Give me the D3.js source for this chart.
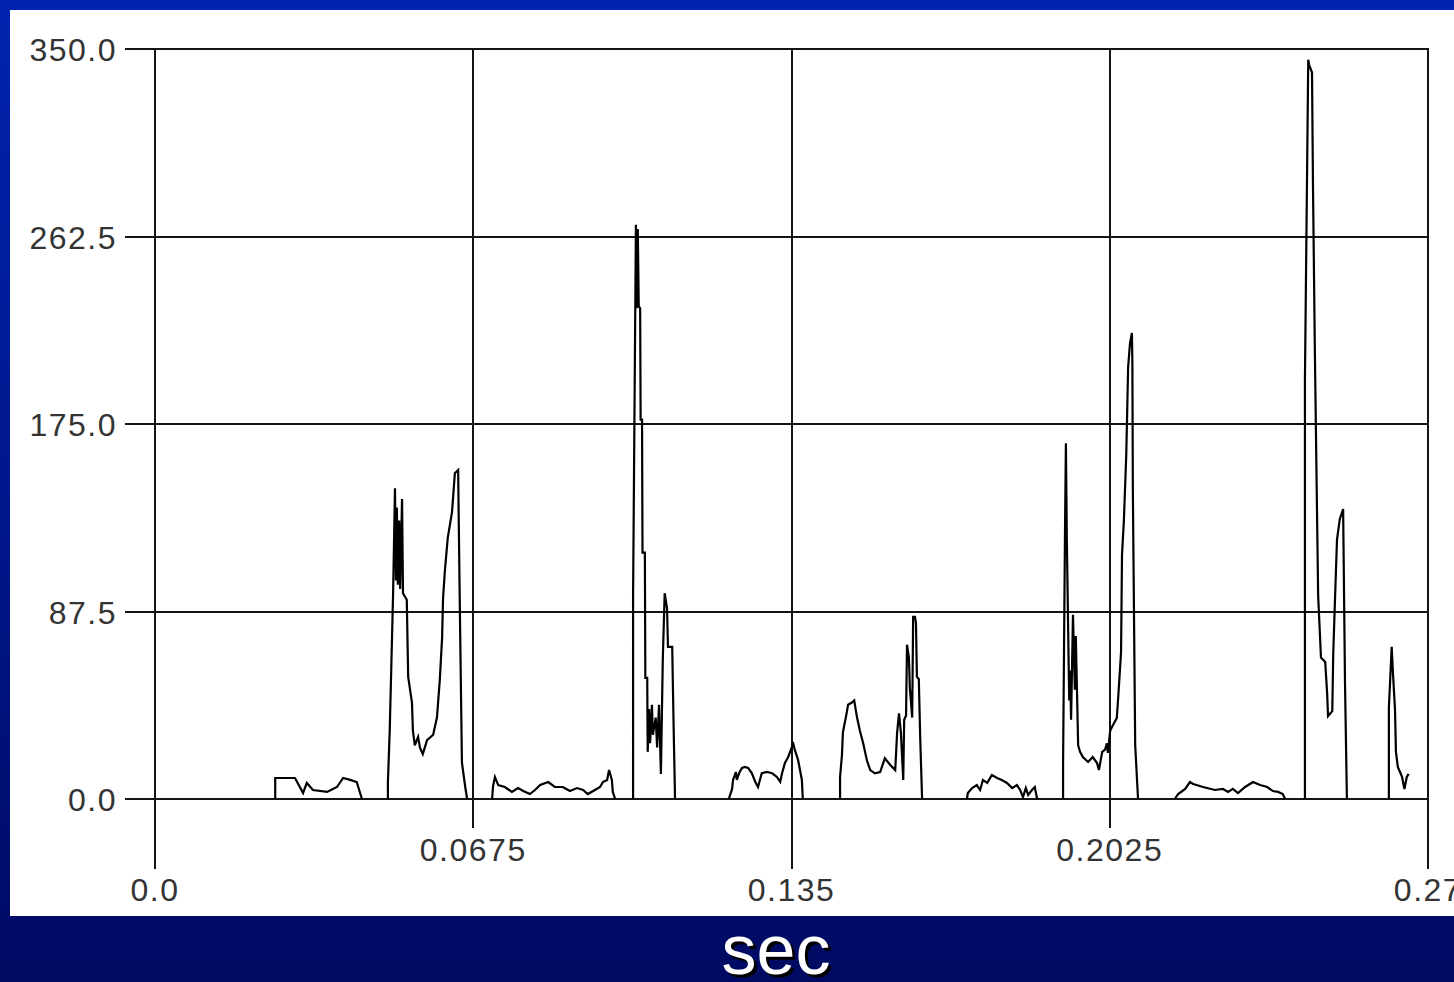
<!DOCTYPE html>
<html>
<head>
<meta charset="utf-8">
<script src="https://cdn.jsdelivr.net/npm/d3@7"></script>
<style>
  html, body { margin: 0; padding: 0; overflow: hidden; }
  svg { display: block; }
</style>
</head>
<body>
<svg id="chart" width="1454" height="982"></svg>
<script>
// ticks on both axes
const yTicks = [0, 87.5, 175, 262.5, 350];
const xTicks = [0, 0.0675, 0.135, 0.2025, 0.27];
const xTickLabels = ["0.0", "0.0675", "0.135", "0.2025", "0.27"];
const xLabel = "sec";

// bursts of the trace, [time (s), value]
const burst1 = [[0.0255,0],[0.0255,9.8],[0.0297,9.8],[0.0314,2.8],[0.0322,7.5],[0.0335,4.2],[0.0365,3.3],
  [0.0386,5.6],[0.0399,9.8],[0.0414,8.9],[0.0428,7.9],[0.0435,2.8],[0.0439,0]];
const burst2 = [[0.0494,0],[0.0494,7.9],[0.0498,33],[0.0505,96],[0.0509,145],[0.0511,102],[0.0513,136],
  [0.0515,100],[0.0518,130],[0.0520,98],[0.0524,140],[0.0526,96],[0.0534,93],[0.0537,57],[0.0545,45],
  [0.0547,32],[0.0551,25],[0.0558,29],[0.0562,24],[0.0568,21],[0.0577,27.5],[0.0590,30],[0.0598,38],
  [0.0604,55.5],[0.0609,75.6],[0.0611,94],[0.0615,107],[0.0621,122],[0.0630,134],[0.0636,152],
  [0.0643,153.5],[0.0644,134],[0.0647,82],[0.0651,17],[0.0658,5.6],[0.0662,0]];
const burst3 = [[0.0715,0],[0.0717,6],[0.0721,10.3],[0.0728,6.5],[0.0742,5.6],[0.0757,3.3],[0.0770,5.1],
  [0.0781,3.7],[0.0795,2.3],[0.0806,4.2],[0.0817,6.5],[0.0834,7.9],[0.0848,5.6],[0.0865,5.6],[0.0880,3.7],
  [0.0895,5.1],[0.0908,4.2],[0.0918,2.3],[0.0933,4.2],[0.0944,5.6],[0.0950,7.9],[0.0959,8.9],[0.0963,13.5],
  [0.0969,8.9],[0.0971,3.3],[0.0976,0]];
const burst4 = [[0.1014,0],[0.1014,95],[0.1020,268],[0.1022,229],[0.1024,266],[0.1026,230],[0.1029,229],
  [0.1030,177],[0.1033,177],[0.1034,115],[0.1039,115],[0.1040,56.5],[0.1044,56.5],[0.1045,22],[0.1048,42],
  [0.1050,26],[0.1054,44],[0.1056,30],[0.1062,38],[0.1065,24],[0.1069,44],[0.1073,11.7],[0.1077,65],
  [0.1081,96],[0.1086,89],[0.1088,71],[0.1097,71],[0.1100,33.6],[0.1103,0]];
const burst5 = [[0.1217,0],[0.1224,4.7],[0.1226,8.9],[0.1232,12.6],[0.1234,8.9],[0.1239,12.1],[0.1245,14.5],
  [0.1251,15],[0.1258,14.5],[0.1266,12],[0.1273,8],[0.1279,5.6],[0.1283,8.9],[0.1287,12],[0.1298,12.6],
  [0.1309,12],[0.1319,10.3],[0.1326,8],[0.1330,12],[0.1336,16.8],[0.1343,19.6],[0.1351,24.3],[0.1353,26.6],
  [0.1357,22.9],[0.1364,18.2],[0.1372,8.9],[0.1374,0]];
const burst6 = [[0.1453,0],[0.1453,10.3],[0.1457,20.5],[0.1459,31],[0.1466,39],[0.1470,44],[0.1478,45],
  [0.1483,46],[0.1489,38],[0.1495,32],[0.1502,26],[0.1510,18],[0.1517,13.5],[0.1527,12],[0.1538,12.6],
  [0.1548,19],[0.1559,16],[0.1570,13.5],[0.1574,31],[0.1578,40],[0.1582,31],[0.1587,8.9],[0.1589,37],
  [0.1593,39],[0.1595,72],[0.1599,66],[0.1601,52],[0.1606,38],[0.1608,85],[0.1612,85],[0.1614,82],
  [0.1616,57],[0.1620,56],[0.1623,28.5],[0.1627,0]];
const burst7 = [[0.1722,0],[0.1724,2.8],[0.1733,5.1],[0.1743,6.5],[0.1750,4.2],[0.1756,8.9],[0.1765,7.5],
  [0.1775,11.2],[0.1786,9.8],[0.1796,8.9],[0.1807,7.5],[0.1818,5.1],[0.1828,6.5],[0.1835,4.2],[0.1841,0.9],
  [0.1847,5.1],[0.1852,1.9],[0.1860,4.2],[0.1866,5.6],[0.1871,0]];
const burst8 = [[0.1926,0],[0.1926,16],[0.1930,123],[0.1932,166],[0.1934,121],[0.1939,46],[0.1941,60],
  [0.1943,37],[0.1947,86],[0.1951,51],[0.1953,76],[0.1958,25],[0.1962,22],[0.1968,19.6],[0.1979,17.3],
  [0.1989,19.6],[0.1998,16.8],[0.2002,13.5],[0.2009,22],[0.2015,23],[0.2019,26],[0.2021,21.5],[0.2026,32],
  [0.2032,34.5],[0.2040,37.8],[0.2043,47.6],[0.2049,68.6],[0.2051,114],[0.2055,130],[0.2060,160.5],
  [0.2064,201.6],[0.2068,212.8],[0.2072,217.5],[0.2073,203.5],[0.2074,144],[0.2079,25],[0.2085,0]];
const burst9 = [[0.2163,0],[0.2170,2.3],[0.2185,4.7],[0.2195,7.9],[0.2202,7],[0.2223,5.6],[0.2248,4.2],
  [0.2265,4.7],[0.2276,3.3],[0.2286,4.7],[0.2297,2.8],[0.2312,5.6],[0.2329,7.9],[0.2344,6.5],[0.2359,5.6],
  [0.2371,3.7],[0.2382,3.3],[0.2392,2.3],[0.2397,0]];
const burst10 = [[0.2439,0],[0.2439,196],[0.2446,345],[0.2448,342.5],[0.2454,339],[0.2456,287.5],
  [0.2460,209.5],[0.2467,95],[0.2473,66],[0.2482,64],[0.2486,49.5],[0.2488,38.7],[0.2497,41],[0.2499,67.7],
  [0.2503,95],[0.2507,121],[0.2513,130.7],[0.2520,135.3],[0.2524,53.7],[0.2528,0]];
const burst11 = [[0.2617,0],[0.2617,42.5],[0.2623,71],[0.2626,57.4],[0.2630,42],[0.2632,22],[0.2636,15],
  [0.2645,10.3],[0.2650,4.7],[0.2655,10.3],[0.2659,11.7]];

const bursts = [burst1, burst2, burst3, burst4, burst5, burst6, burst7, burst8, burst9, burst10, burst11];

const svg = d3.select("#chart");
const W = 1454, H = 982;
const m = {left: 155, right: 1428, top: 49, bottom: 799};

// slide background
const defs = svg.append("defs");
const grad = defs.append("linearGradient").attr("id", "bg").attr("x1", 0).attr("y1", 0).attr("x2", 0).attr("y2", 1);
grad.append("stop").attr("offset", "0%").attr("stop-color", "#0024ae");
grad.append("stop").attr("offset", "55%").attr("stop-color", "#00168a");
grad.append("stop").attr("offset", "100%").attr("stop-color", "#000a62");
svg.append("rect").attr("width", W).attr("height", H).attr("fill", "url(#bg)");

// white panel
svg.append("rect").attr("x", 10).attr("y", 10).attr("width", W).attr("height", 906).attr("fill", "#fff");

const x = d3.scaleLinear().domain([0, 0.27]).range([m.left, m.right]);
const y = d3.scaleLinear().domain([0, 350]).range([m.bottom, m.top]);

const font = "'Liberation Sans', Arial, sans-serif";
const gridCol = "#141414";

// horizontal grid + y ticks
svg.append("g").attr("shape-rendering", "crispEdges")
  .selectAll("line").data(yTicks).join("line")
  .attr("x1", m.left - 30).attr("x2", m.right)
  .attr("y1", d => Math.round(y(d))).attr("y2", d => Math.round(y(d)))
  .attr("stroke", gridCol).attr("stroke-width", 2);

svg.append("g").selectAll("text").data(yTicks).join("text")
  .attr("x", m.left - 38).attr("y", d => y(d) + 12)
  .attr("text-anchor", "end")
  .attr("font-family", font).attr("font-size", 32).attr("fill", "#333")
  .attr("letter-spacing", 1.5)
  .text(d => d3.format(".1f")(d));

// vertical grid + x ticks (alternating long/short)
svg.append("g").attr("shape-rendering", "crispEdges")
  .selectAll("line").data(xTicks).join("line")
  .attr("x1", d => Math.round(x(d))).attr("x2", d => Math.round(x(d)))
  .attr("y1", m.top - 1).attr("y2", (d, i) => i % 2 ? 828 : 869)
  .attr("stroke", gridCol).attr("stroke-width", 2);

svg.append("g").selectAll("text").data(xTicks).join("text")
  .attr("x", d => x(d)).attr("y", (d, i) => i % 2 ? 861 : 901)
  .attr("text-anchor", "middle")
  .attr("font-family", font).attr("font-size", 32).attr("fill", "#333")
  .attr("letter-spacing", 1.5)
  .text((d, i) => xTickLabels[i]);

// trace
const line = d3.line().x(d => x(d[0])).y(d => y(d[1]));
svg.append("g").selectAll("path").data(bursts).join("path")
  .attr("d", line)
  .attr("fill", "none")
  .attr("stroke", "#000")
  .attr("stroke-width", 2.2)
  .attr("stroke-linejoin", "miter");

// axis title on the slide, with a drop shadow
svg.append("text").attr("x", 776).attr("y", 974)
  .attr("text-anchor", "middle").attr("font-family", font).attr("font-size", 70)
  .attr("fill", "#fff")
  .style("filter", "drop-shadow(3px 3px 0px #000)")
  .text(xLabel);
</script>
</body>
</html>
